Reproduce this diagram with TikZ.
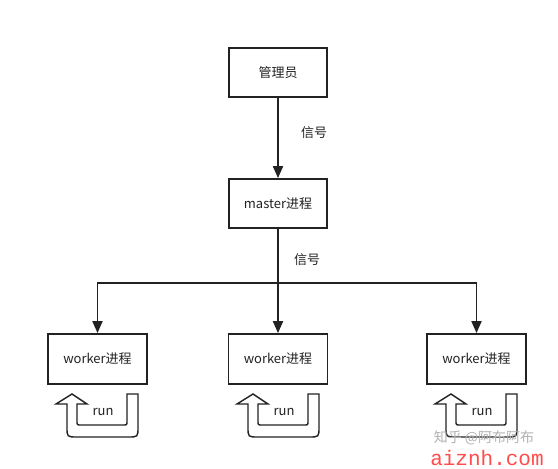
\documentclass[tikz,border=0pt]{standalone}
\usepackage{fontspec}
\setmainfont{Noto Sans CJK SC}
\newfontfamily\wmmono{Liberation Mono}
\usetikzlibrary{arrows.meta}
\definecolor{ink}{HTML}{222222}
\tikzset{
  procbox/.style={draw=ink, line width=1.8pt, minimum width=98pt, minimum height=49pt, inner sep=0pt, font=\fontsize{13}{15}\selectfont, text=ink},
  flow/.style={draw=ink, line width=1.8pt, -{Triangle[length=12pt,width=10pt]}},
  plain/.style={draw=ink, line width=1.8pt},
  lbl/.style={font=\fontsize{13}{15}\selectfont, text=ink, inner sep=0pt},
  runarrow/.style={draw=ink, line width=1.4pt, line join=miter},
}
\begin{document}
\begin{tikzpicture}[x=1pt, y=-1pt]
\useasboundingbox[fill=white] (0,0) rectangle (558,469);

\node[procbox] (admin) at (278,72.5) {管理员};
\node[procbox] (master) at (278,203.5) {master进程};
\node[procbox, minimum width=99pt, minimum height=50pt] (w1) at (97.5,359) {worker进程};
\node[procbox, minimum width=99pt, minimum height=50pt] (w2) at (278,359) {worker进程};
\node[procbox, minimum width=99pt, minimum height=50pt] (w3) at (476.5,359) {worker进程};

\draw[flow] (admin) -- (master);
\node[lbl] (sig1) at (314,133) {信号};

\coordinate (j) at (278,283);
\draw[plain] (master) -- (j);
\draw[flow] (j) -| (w1.north);
\draw[flow] (j) -- (w2.north);
\draw[flow] (j) -| (w3.north);
\node[lbl] (sig2) at (307,260) {信号};

\foreach \dx/\nm in {0/r1, 181/r2, 379/r3} {
  \begin{scope}[xshift=\dx pt]
    \draw[runarrow] (72,394) -- (87,404) -- (77,404) -- (77,421)
      .. controls (77,425) .. (81,425) -- (123,425)
      .. controls (127,425) .. (127,421) -- (127,394) -- (138,394)
      -- (138,427) .. controls (138,437) .. (128,437) -- (77,437)
      .. controls (67,437) .. (67,427) -- (67,404) -- (56,404) -- cycle;
    \node[lbl] (\nm) at (103,412) {run};
  \end{scope}
}

\node[font=\fontsize{14}{16}\selectfont, text=gray!60, inner sep=0pt] (wm1) at (484,438) {知乎 @阿布阿布};
\node[font=\wmmono\fontsize{21}{23}\selectfont, text=red!70!white, inner sep=0pt] (wm2) at (487,458) {aiznh.com};
\end{tikzpicture}
\end{document}
